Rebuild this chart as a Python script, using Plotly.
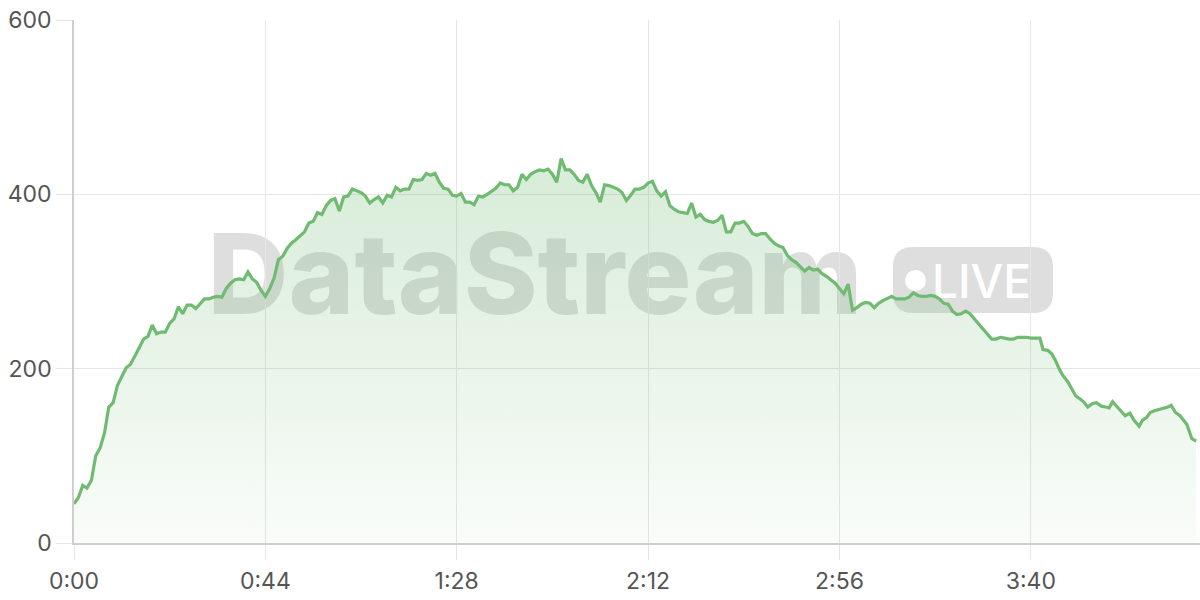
import plotly.graph_objects as go

# ---------------- data ----------------
TIMES = list(range(0, 221)) + [
    222.1, 222.8, 223.9, 224.8, 225.7, 226.7, 227.4, 228.5, 229.4, 230.3,
    231.4, 232.3, 233.1, 234.2, 235.1, 236.2, 237.2, 238.0, 238.8, 239.8,
    240.8, 241.7, 242.8, 243.7, 244.9, 245.7, 246.6, 247.5, 248.6, 249.5,
    250.6, 251.5, 252.3, 253.2, 254.3, 255.2, 255.9, 257.0, 258.0,
]

VALUES = [
    # 0 - 19
    45, 52, 66, 63, 72, 100, 109, 126, 156, 161,
    181, 191, 201, 205, 214, 224, 234, 237, 250, 240,
    # 20 - 39
    242, 242, 252, 257, 271, 263, 273, 273, 269, 274,
    280, 280, 282, 283, 282, 292, 298, 302, 303, 302,
    # 40 - 59
    311, 303, 299, 290, 283, 292, 304, 325, 329, 338,
    344, 348, 352, 357, 367, 369, 379, 377, 387, 393,
    # 60 - 79
    395, 381, 397, 398, 406, 404, 402, 398, 390, 394,
    397, 390, 399, 397, 408, 404, 406, 406, 417, 416,
    # 80 - 99
    417, 424, 422, 424, 414, 407, 406, 399, 398, 401,
    391, 391, 388, 398, 397, 400, 403, 407, 413, 411,
    # 100 - 119
    411, 404, 408, 423, 417, 423, 426, 428, 427, 429,
    423, 414, 441, 428, 428, 423, 416, 414, 423, 410,
    # 120 - 139
    402, 391, 411, 410, 408, 406, 402, 393, 399, 406,
    406, 408, 413, 415, 404, 398, 403, 387, 383, 380,
    # 140 - 159
    379, 378, 390, 374, 377, 371, 369, 368, 370, 376,
    357, 357, 367, 367, 369, 363, 355, 353, 355, 355,
    # 160 - 179
    349, 344, 341, 339, 330, 325, 322, 317, 312, 316,
    313, 314, 309, 306, 302, 298, 292, 286, 297, 267,
    # 180 - 199
    270, 274, 276, 275, 270, 275, 278, 280, 283, 280,
    280, 280, 282, 287, 284, 283, 283, 284, 283, 280,
    # 200 - 220
    275, 274, 266, 262, 263, 266, 263, 257, 252, 246,
    240, 234, 234, 236, 235, 234, 234, 236, 236, 236,
    235,
    # tail (fractional-time readings)
    235, 222, 221, 217, 209, 198, 192, 185, 177, 169,
    165, 161, 156, 160, 161, 157, 156, 155, 162, 156,
    151, 146, 149, 141, 134, 141, 144, 150, 152, 153,
    155, 156, 158, 150, 146, 141, 136, 120, 117,
]

X_TICKS = [0, 44, 88, 132, 176, 220]
X_LABELS = ["0:00", "0:44", "1:28", "2:12", "2:56", "3:40"]
Y_TICKS = [0, 200, 400, 600]
Y_LABELS = ["0", "200", "400", "600"]

WATERMARK = "DataStream"
BADGE = "LIVE"

# ---------------- styling / geometry ----------------
W, H = 1200, 600
ML, MR, MT, MB = 74, 0, 20, 57
PW, PH = W - ML - MR, H - MT - MB
LINE_COLOR = "rgb(112,186,114)"
GRID = "#e6e6e6"
AXIS = "#cfcfcf"
TICK_FONT = dict(family="Inter, Noto Sans, sans-serif", size=23, color="#555555")


def fx(px):
    return (px - ML) / PW


def fy(py):
    return (H - MB - py) / PH


def rounded_rect(x0, y0, x1, y1, r):
    rx, ry = r / PW, r / PH
    a, b, c, d = fx(x0), fy(y1), fx(x1), fy(y0)  # left, bottom, right, top
    return (f"M {a+rx},{b} L {c-rx},{b} Q {c},{b} {c},{b+ry} "
            f"L {c},{d-ry} Q {c},{d} {c-rx},{d} L {a+rx},{d} "
            f"Q {a},{d} {a},{d-ry} L {a},{b+ry} Q {a},{b} {a+rx},{b} Z")


fig = go.Figure()
fig.add_trace(go.Scatter(
    x=TIMES, y=VALUES, mode="lines",
    line=dict(color=LINE_COLOR, width=3.2),
    fill="tozeroy",
    fillgradient=dict(
        type="vertical",
        colorscale=[[0, "rgba(112,186,114,0.04)"], [1, "rgba(112,186,114,0.28)"]],
    ),
    hoverinfo="skip", showlegend=False,
))

WM_COLOR = "rgba(0,0,0,0.13)"
shapes = [
    # watermark word
    dict(type="rect", xref="paper", yref="paper",
         x0=fx(180), x1=fx(890), y0=fy(335), y1=fy(205),
         line=dict(width=0), fillcolor="rgba(0,0,0,0)", layer="between",
         label=dict(text=WATERMARK, textposition="middle center",
                    padding=0,
                    font=dict(family="Inter, Open Sans, sans-serif", size=112,
                              weight=800, color=WM_COLOR))),
    # badge background
    dict(type="path", xref="paper", yref="paper",
         path=rounded_rect(893, 247, 1053, 313, 20),
         line=dict(width=0), fillcolor=WM_COLOR, layer="between"),
    # badge dot
    dict(type="circle", xref="paper", yref="paper",
         x0=fx(905), x1=fx(926), y0=fy(291), y1=fy(270),
         line=dict(width=0), fillcolor="white", layer="between"),
    # badge text
    dict(type="rect", xref="paper", yref="paper",
         x0=fx(929), x1=fx(1050), y0=fy(305), y1=fy(255),
         line=dict(width=0), fillcolor="rgba(0,0,0,0)", layer="between",
         label=dict(text=BADGE, textposition="middle left", padding=0,
                    font=dict(family="Inter, Open Sans, sans-serif", size=46,
                              weight=500, color="white"))),
]

fig.update_layout(
    width=W, height=H,
    margin=dict(l=ML, r=MR, t=MT, b=MB, pad=0),
    paper_bgcolor="white", plot_bgcolor="white",
    shapes=shapes,
    showlegend=False,
    xaxis=dict(
        range=[0, 258.9], tickvals=X_TICKS, ticktext=X_LABELS,
        showgrid=True, gridcolor=GRID, gridwidth=1,
        ticks="outside", ticklen=15, tickcolor=GRID, tickwidth=1,
        showline=True, linecolor=AXIS, linewidth=1.5,
        zeroline=False, tickfont=TICK_FONT, automargin=False,
        ticklabelstandoff=2, fixedrange=True,
    ),
    yaxis=dict(
        range=[0, 600], tickvals=Y_TICKS, ticktext=Y_LABELS,
        showgrid=True, gridcolor=GRID, gridwidth=1,
        ticks="outside", ticklen=16, tickcolor=GRID, tickwidth=1,
        showline=True, linecolor=AXIS, linewidth=1.5,
        zeroline=False, tickfont=TICK_FONT, automargin=False,
        ticklabelstandoff=0, fixedrange=True,
    ),
)

fig.write_html(
    "out.html",
    config={"displayModeBar": False},
    post_script="document.body.style.margin='0';document.body.style.overflow='hidden';",
)
